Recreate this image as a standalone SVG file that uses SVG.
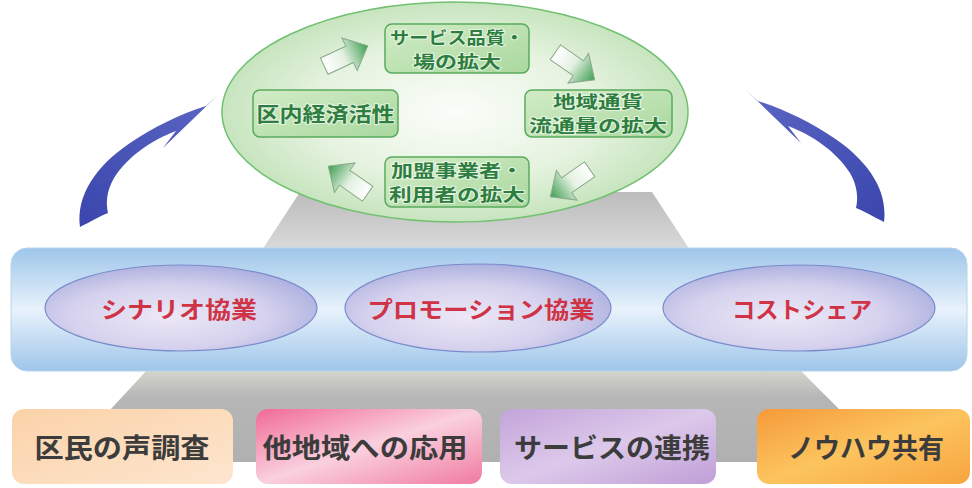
<svg xmlns="http://www.w3.org/2000/svg" width="972" height="488" viewBox="0 0 972 488">
<style>
.jp{font-family:"Noto Sans CJK JP","Noto Sans",sans-serif;font-weight:bold}
.gbox{fill:url(#gBox);stroke:#5aaa5e;stroke-width:1.5}
.gtxt{font-size:20px;fill:#2e7d40;text-anchor:middle;dominant-baseline:central;stroke:#ffffff;stroke-width:2px;paint-order:stroke;stroke-opacity:0.6}
.gtxt2{font-size:16.5px}
.btxt{font-size:23px;fill:#cf3345;text-anchor:middle;dominant-baseline:central}
.ktxt{font-size:27px;fill:#3c3c3c;text-anchor:middle;dominant-baseline:central}
.bell{fill:url(#gLav);stroke:#7b8ccc;stroke-width:1.2}
.sarrow{fill:url(#gArr);stroke:#8aa88a;stroke-width:1}
.barrow{fill:url(#gBlue)}
</style>
<defs>
<radialGradient id="gEll" cx="0.5" cy="0.5" r="0.55">
<stop offset="0" stop-color="#fbfdf9"/>
<stop offset="0.55" stop-color="#e6f3e0"/>
<stop offset="1" stop-color="#bfe1b6"/>
</radialGradient>
<linearGradient id="gBox" x1="0" y1="0" x2="1" y2="1">
<stop offset="0" stop-color="#d2ecc6"/>
<stop offset="1" stop-color="#a9d89e"/>
</linearGradient>
<linearGradient id="gArr" x1="0" y1="0" x2="1" y2="0">
<stop offset="0" stop-color="#ffffff"/>
<stop offset="0.45" stop-color="#e4f1e2"/>
<stop offset="1" stop-color="#3f9e52"/>
</linearGradient>
<linearGradient id="gBlue" x1="0" y1="1" x2="1" y2="0">
<stop offset="0" stop-color="#3a46ad"/>
<stop offset="1" stop-color="#5c66c4"/>
</linearGradient>
<linearGradient id="gBand" x1="0" y1="0" x2="0" y2="1">
<stop offset="0" stop-color="#9ec6ea"/>
<stop offset="0.5" stop-color="#e8f2fb"/>
<stop offset="1" stop-color="#9ec6ea"/>
</linearGradient>
<radialGradient id="gLav" cx="0.45" cy="0.6" r="0.6">
<stop offset="0" stop-color="#ece8f6"/>
<stop offset="0.6" stop-color="#d6d2ee"/>
<stop offset="1" stop-color="#aeb2e0"/>
</radialGradient>
<linearGradient id="gGrey1" x1="0" y1="0" x2="0" y2="1">
<stop offset="0" stop-color="#bcbcbc"/>
<stop offset="1" stop-color="#dadada"/>
</linearGradient>
<linearGradient id="gGrey2" x1="0" y1="0" x2="0" y2="1">
<stop offset="0" stop-color="#d6d6cc"/>
<stop offset="0.3" stop-color="#b6b6b6"/>
<stop offset="1" stop-color="#b0b0b0"/>
</linearGradient>
<linearGradient id="gPeach" x1="0" y1="0" x2="1" y2="1">
<stop offset="0" stop-color="#fbd2a8"/>
<stop offset="1" stop-color="#fde6cf"/>
</linearGradient>
<linearGradient id="gPink" x1="0" y1="0" x2="1" y2="1">
<stop offset="0" stop-color="#f06a96"/>
<stop offset="0.5" stop-color="#fad0de"/>
<stop offset="1" stop-color="#f07ba2"/>
</linearGradient>
<linearGradient id="gPurple" x1="0" y1="0" x2="1" y2="1">
<stop offset="0" stop-color="#c4a4da"/>
<stop offset="0.5" stop-color="#dcc9ea"/>
<stop offset="1" stop-color="#c09ed6"/>
</linearGradient>
<linearGradient id="gOrange" x1="0" y1="0" x2="1" y2="1">
<stop offset="0" stop-color="#f59a3a"/>
<stop offset="0.5" stop-color="#fcc45e"/>
<stop offset="1" stop-color="#f7a440"/>
</linearGradient>
<path id="blk" d="M-24,-9 L4,-9 L4,-18 L24,0 L4,18 L4,9 L-24,9 Z"/>
<path id="curv" d="M80,227 C76,195 96,166 130,143 C152,128 180,114 206,106 L218,95 L163,148 L176,131 C152,140 128,156 114,178 C106,192 106,204 108,213 C100,216 90,222 80,227 Z"/>
</defs>

<g id="backdrop">
<polygon points="300,192 652,192 690,250 262,250" fill="url(#gGrey1)"/>
<polygon points="147,370 800,370 840,410 840,462 110,462 110,410" fill="url(#gGrey2)"/>
</g>

<g id="cycle">
<ellipse cx="455" cy="112" rx="233" ry="110" fill="url(#gEll)" stroke="#72c072" stroke-width="1.5"/>
</g>

<g id="box-service">
<rect class="gbox" x="385" y="24" width="144" height="49" rx="7"/>
<text class="jp gtxt gtxt2" x="457" y="37" textLength="134" lengthAdjust="spacingAndGlyphs">サービス品質・</text>
<text class="jp gtxt gtxt2" x="457" y="61" textLength="88" lengthAdjust="spacingAndGlyphs">場の拡大</text>
</g>
<g id="box-econ">
<rect class="gbox" x="253" y="90" width="145" height="47" rx="7"/>
<text class="jp gtxt" x="325.5" y="113" textLength="138" lengthAdjust="spacingAndGlyphs">区内経済活性</text>
</g>
<g id="box-currency">
<rect class="gbox" x="525" y="90" width="147" height="47" rx="7"/>
<text class="jp gtxt gtxt2" x="598" y="101" textLength="90" lengthAdjust="spacingAndGlyphs">地域通貨</text>
<text class="jp gtxt gtxt2" x="598" y="125" textLength="138" lengthAdjust="spacingAndGlyphs">流通量の拡大</text>
</g>
<g id="box-members">
<rect class="gbox" x="385" y="157" width="144" height="50" rx="7"/>
<text class="jp gtxt gtxt2" x="457" y="170" textLength="132" lengthAdjust="spacingAndGlyphs">加盟事業者・</text>
<text class="jp gtxt gtxt2" x="457" y="194" textLength="136" lengthAdjust="spacingAndGlyphs">利用者の拡大</text>
</g>

<g id="connectors">
<use href="#blk" class="sarrow" transform="translate(346,56) rotate(-25)"/>
<use href="#blk" class="sarrow" transform="translate(575,66) rotate(35)"/>
<use href="#blk" class="sarrow" transform="translate(570,183) rotate(145)"/>
<use href="#blk" class="sarrow" transform="translate(348,180) rotate(-145)"/>
<use href="#curv" class="barrow"/>
<use href="#curv" class="barrow" transform="translate(964,-5) scale(-1,1)"/>
</g>

<g id="band">
<rect x="11" y="248" width="956" height="123" rx="16" fill="url(#gBand)" stroke="#b8d4ee" stroke-width="1"/>
</g>
<g id="scenario">
<ellipse class="bell" cx="181" cy="308" rx="136" ry="43"/>
<text class="jp btxt" x="179" y="308" textLength="156" lengthAdjust="spacingAndGlyphs">シナリオ協業</text>
</g>
<g id="promotion">
<ellipse class="bell" cx="478" cy="308" rx="133" ry="44"/>
<text class="jp btxt" x="481" y="308" textLength="227" lengthAdjust="spacingAndGlyphs">プロモーション協業</text>
</g>
<g id="costshare">
<ellipse class="bell" cx="799" cy="308" rx="136" ry="43"/>
<text class="jp btxt" x="802" y="308" textLength="140" lengthAdjust="spacingAndGlyphs">コストシェア</text>
</g>

<g id="survey">
<rect x="12" y="409" width="221" height="75" rx="12" fill="url(#gPeach)"/>
<text class="jp ktxt" x="122" y="446" textLength="175" lengthAdjust="spacingAndGlyphs">区民の声調査</text>
</g>
<g id="apply">
<rect x="256" y="409" width="226" height="75" rx="12" fill="url(#gPink)"/>
<text class="jp ktxt" x="365" y="446" textLength="205" lengthAdjust="spacingAndGlyphs">他地域への応用</text>
</g>
<g id="link">
<rect x="500" y="409" width="216" height="75" rx="12" fill="url(#gPurple)"/>
<text class="jp ktxt" x="612" y="446" textLength="196" lengthAdjust="spacingAndGlyphs">サービスの連携</text>
</g>
<g id="knowhow">
<rect x="757" y="409" width="213" height="75" rx="12" fill="url(#gOrange)"/>
<text class="jp ktxt" x="866" y="446" textLength="156" lengthAdjust="spacingAndGlyphs">ノウハウ共有</text>
</g>
</svg>
